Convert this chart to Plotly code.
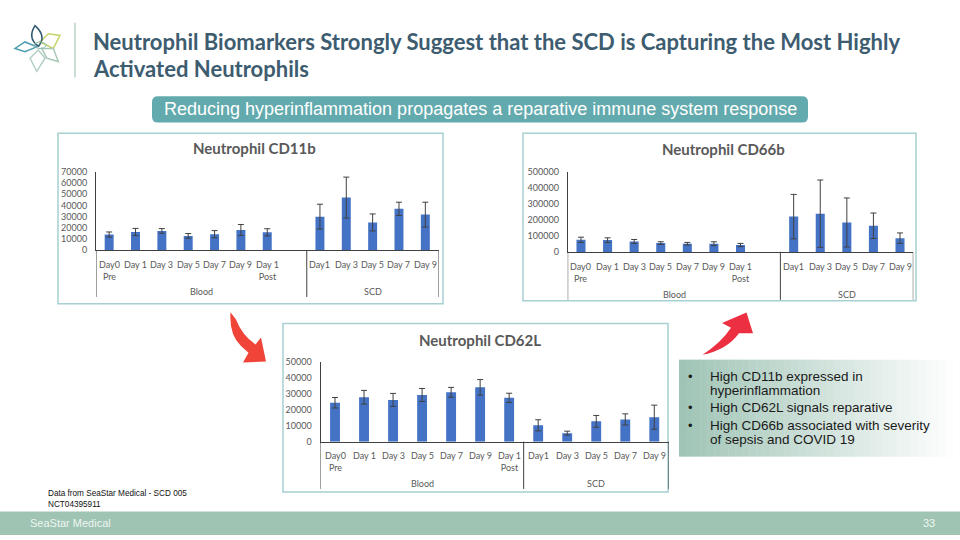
import plotly.graph_objects as go

W, H = 960, 540

# ---------------- data ----------------
blood_labels = ["Day0<br>Pre", "Day 1", "Day 3", "Day 5", "Day 7", "Day 9", "Day 1<br>Post"]
scd_labels = ["Day1", "Day 3", "Day 5", "Day 7", "Day 9"]
group_names = ["Blood", "SCD"]

cd11b_blood = [14000, 16300, 17200, 12800, 14300, 18100, 16000]
cd11b_blood_err = [2300, 3200, 2100, 2100, 3200, 4900, 3200]
cd11b_scd = [30000, 47000, 24800, 37000, 31800]
cd11b_scd_err = [11100, 18300, 7600, 5900, 11100]
cd11b_ticks = [0, 10000, 20000, 30000, 40000, 50000, 60000, 70000]

cd66b_blood = [75500, 73500, 65300, 55100, 51000, 51000, 42900]
cd66b_blood_err = [16300, 14300, 12200, 8200, 8200, 12200, 10200]
cd66b_scd = [220400, 238800, 183700, 163300, 85700]
cd66b_scd_err = [138800, 210200, 153100, 79600, 32700]
cd66b_ticks = [0, 100000, 200000, 300000, 400000, 500000]

cd62l_blood = [24500, 28000, 26300, 29400, 31100, 34200, 27600]
cd62l_blood_err = [3300, 4300, 4100, 4100, 3100, 4900, 2900]
cd62l_scd = [10300, 5350, 12800, 14000, 15400]
cd62l_scd_err = [3500, 1250, 3700, 3500, 7600]
cd62l_ticks = [0, 10000, 20000, 30000, 40000, 50000]

title_lines = ["Neutrophil Biomarkers Strongly Suggest that the SCD is Capturing the Most Highly",
               "Activated Neutrophils"]
banner_text = "Reducing hyperinflammation propagates a reparative immune system response"
bullets = [
    ["High CD11b expressed in", "hyperinflammation"],
    ["High CD62L signals reparative"],
    ["High CD66b associated with severity", "of sepsis and COVID 19"],
]

# ---------------- helpers ----------------
def PX(x):
    return x / W


def PY(y):
    return 1 - y / H


BAR = "#4472C4"
AXC = "#404040"
TXT = "#595959"
CFONT = "Lato, Carlito, sans-serif"
SFONT = "Liberation Sans, Arial, sans-serif"

charts = [
    dict(title="Neutrophil CD11b", blood=cd11b_blood, berr=cd11b_blood_err,
         scd=cd11b_scd, serr=cd11b_scd_err, ticks=cd11b_ticks, blank=True,
         box=(58, 130, 443, 304), xpix=(96, 438.5), ypix=(249.3, 169.3),
         lab_top=256.5, grp_y=291, div_bottom=297, title_y=145),
    dict(title="Neutrophil CD66b", blood=cd66b_blood, berr=cd66b_blood_err,
         scd=cd66b_scd, serr=cd66b_scd_err, ticks=cd66b_ticks, blank=True,
         box=(523, 130, 916, 301), xpix=(567.7, 913.3), ypix=(251, 169.3),
         lab_top=258.5, grp_y=294, div_bottom=300, title_y=146),
    dict(title="Neutrophil CD62L", blood=cd62l_blood, berr=cd62l_blood_err,
         scd=cd62l_scd, serr=cd62l_scd_err, ticks=cd62l_ticks, blank=False,
         box=(283, 324, 668, 496), xpix=(320.5, 668.8), ypix=(444.7, 363.7),
         lab_top=451.5, grp_y=487, div_bottom=493, title_y=341),
]

fig = go.Figure()
shapes = []
annotations = []
layout_axes = {}

for c in charts:
    l, t, r, b = c["box"]
    shapes.append(dict(type="rect", xref="paper", yref="paper",
                       x0=PX(l), x1=PX(r), y0=PY(b), y1=PY(t),
                       line=dict(color="#a6d0d2", width=1.5),
                       fillcolor="white", layer="below"))

for i, c in enumerate(charts):
    s = "" if i == 0 else str(i + 1)
    labels = blood_labels + ([""] if c["blank"] else []) + scd_labels
    vals = c["blood"] + ([None] if c["blank"] else []) + c["scd"]
    errs = c["berr"] + ([0] if c["blank"] else []) + c["serr"]
    n = len(labels)
    xs = list(range(n))
    nb = len(blood_labels) + (1 if c["blank"] else 0)

    fig.add_trace(go.Bar(
        x=xs, y=vals, width=0.34, xaxis="x" + s, yaxis="y" + s,
        marker=dict(color=BAR, line=dict(width=0)),
        error_y=dict(type="data", array=errs, visible=True,
                     color=AXC, thickness=1, width=3),
        hoverinfo="skip", showlegend=False,
    ))

    layout_axes["xaxis" + s] = dict(
        domain=[PX(c["xpix"][0]), PX(c["xpix"][1])], range=[-0.5, n - 0.5],
        anchor="y" + s, showticklabels=False, showgrid=False, zeroline=False,
        showline=True, linecolor=AXC, linewidth=1, ticks="", fixedrange=True)
    layout_axes["yaxis" + s] = dict(
        domain=[PY(c["ypix"][0]), PY(c["ypix"][1])],
        range=[0, c["ticks"][-1]], anchor="x" + s, tickvals=c["ticks"],
        tickformat="d", showgrid=False, zeroline=False, showline=True,
        linecolor=AXC, linewidth=1, ticks="", ticklabelstandoff=6,
        tickfont=dict(family=CFONT, size=9, color=TXT), fixedrange=True)

    for xi, lab in zip(xs, labels):
        if lab:
            annotations.append(dict(
                xref="x" + s, yref="paper", x=xi, y=PY(c["lab_top"]),
                yanchor="top", xanchor="center", text=lab, showarrow=False,
                align="center", font=dict(family=CFONT, size=9, color=TXT)))

    bounds = [-0.5, nb - 0.5, n - 0.5]
    for g, name in enumerate(group_names):
        annotations.append(dict(
            xref="x" + s, yref="paper", x=(bounds[g] + bounds[g + 1]) / 2,
            y=PY(c["grp_y"]), yanchor="middle", xanchor="center", text=name,
            showarrow=False, font=dict(family=CFONT, size=9, color=TXT)))
    for bx in bounds:
        shapes.append(dict(type="line", xref="x" + s, yref="paper",
                           x0=bx, x1=bx, y0=PY(c["ypix"][0]), y1=PY(c["div_bottom"]),
                           line=dict(color=AXC, width=1)))

    l, t, r, b = c["box"]
    annotations.append(dict(
        xref="paper", yref="paper", x=PX((l + r) / 2 + 4), y=PY(c["title_y"]),
        xanchor="center", yanchor="middle", text=c["title"], showarrow=False,
        font=dict(family=CFONT, size=15, color=TXT, weight="bold")))


def path(points, close=True):
    d = "M " + " L ".join(f"{PX(x):.5f},{PY(y):.5f}" for x, y in points)
    return d + (" Z" if close else "")


def qpath(seq):
    out = []
    for cmd, *pts in seq:
        coords = " ".join(f"{PX(pts[k]):.5f},{PY(pts[k + 1]):.5f}" for k in range(0, len(pts), 2))
        out.append(f"{cmd} {coords}")
    return " ".join(out) + " Z"


# ---------- slide decorations ----------
shapes.append(dict(type="line", xref="paper", yref="paper", x0=PX(75), x1=PX(75),
                   y0=PY(17), y1=PY(73), line=dict(color="#b8d2c2", width=1.5)))
petals = [
    ([(40, 36.7), (48.3, 28.3), (60, 30), (53.3, 43.3)], "#c5d66a"),
    ([(41.7, 43.3), (53.3, 43.3), (58.3, 56.7), (46.7, 53.3)], "#a9c7b6"),
    ([(38.3, 45), (45, 53.3), (36.7, 66.7), (30, 53.3)], "#b4cfc6"),
    ([(36.7, 41.7), (25, 46.7), (15, 43.3), (25, 36.7)], "#4f9db2"),
]
for pts, col in petals:
    shapes.append(dict(type="path", xref="paper", yref="paper", path=path(pts),
                       line=dict(color=col, width=1.5)))
shapes.append(dict(type="path", xref="paper", yref="paper",
                   path=qpath([("M", 38.5, 41), ("Q", 27, 33, 35, 20), ("Q", 47, 31, 38.5, 41)]),
                   line=dict(color="#2f5b70", width=1.5)))
shapes.append(dict(type="path", xref="paper", yref="paper",
                   path=qpath([("M", 33, 40), ("Q", 40, 33, 47, 40), ("Q", 40, 47, 33, 40)]),
                   line=dict(color="#8fbcb0", width=1)))

bl, bt, br, bb, rr = 152, 92, 808, 119, 6
shapes.append(dict(type="path", xref="paper", yref="paper", layer="below",
                   path=qpath([("M", bl + rr, bt), ("L", br - rr, bt), ("Q", br, bt, br, bt + rr),
                               ("L", br, bb - rr), ("Q", br, bb, br - rr, bb), ("L", bl + rr, bb),
                               ("Q", bl, bb, bl, bb - rr), ("L", bl, bt + rr), ("Q", bl, bt, bl + rr, bt)]),
                   fillcolor="#62aaad", line=dict(width=0)))
annotations.append(dict(xref="paper", yref="paper", x=PX(480), y=PY(105.5),
                        xanchor="center", yanchor="middle", showarrow=False,
                        text=banner_text,
                        font=dict(family=SFONT, size=18, color="white")))

for ty, txt in zip([36.5, 63.5], title_lines):
    annotations.append(dict(xref="paper", yref="paper", x=PX(91), y=PY(ty), xanchor="left",
                            yanchor="middle", showarrow=False, text=txt,
                            font=dict(family="Lato", size=22, color="#3d5c70", weight="bold")))

gx0, gx1, gt, gb = 679, 960, 361, 460
steps = 40
c0 = (160, 196, 182)
for k in range(steps):
    f = k / (steps - 1)
    col = tuple(int(round(c0[j] + (255 - c0[j]) * f)) for j in range(3))
    xa = gx0 + (gx1 - gx0) * k / steps
    xb = gx0 + (gx1 - gx0) * (k + 1) / steps + 0.5
    shapes.append(dict(type="rect", xref="paper", yref="paper", layer="below",
                       x0=PX(xa), x1=PX(xb), y0=PY(gb), y1=PY(gt),
                       fillcolor=f"rgb{col}", line=dict(width=0)))

line_y = [[378, 393], [410], [428, 443]]
for ys, lines in zip(line_y, bullets):
    annotations.append(dict(xref="paper", yref="paper", x=PX(690), y=PY(ys[0]), xanchor="center",
                            yanchor="middle", showarrow=False, text="•",
                            font=dict(family=SFONT, size=13, color="#1a1a1a")))
    for yy, txt in zip(ys, lines):
        annotations.append(dict(xref="paper", yref="paper", x=PX(708), y=PY(yy), xanchor="left",
                                yanchor="middle", showarrow=False, text=txt,
                                font=dict(family=SFONT, size=13.5, color="#1a1a1a")))

arrow1 = [("M", 230.5, 312.5), ("Q", 229, 336, 241, 347), ("L", 248.5, 354), ("L", 243, 364),
          ("L", 266, 363), ("L", 261, 338.5), ("L", 255.5, 345.5), ("Q", 242, 336, 236, 320)]
arrow2 = [("M", 702.5, 356), ("Q", 727, 351, 739, 334), ("L", 753, 334), ("L", 746.5, 313),
          ("L", 722, 323.5), ("L", 731, 328.5), ("Q", 721, 344, 702.5, 356)]
for a, col in [(arrow1, "#f04438"), (arrow2, "#ec3042")]:
    shapes.append(dict(type="path", xref="paper", yref="paper", path=qpath(a),
                       fillcolor=col, line=dict(width=0)))

annotations.append(dict(xref="paper", yref="paper", x=PX(46), y=PY(498), xanchor="left",
                        yanchor="middle", showarrow=False, text="Data from SeaStar Medical - SCD 005",
                        font=dict(family=SFONT, size=8.2, color="#111")))
annotations.append(dict(xref="paper", yref="paper", x=PX(46), y=PY(509), xanchor="left",
                        yanchor="middle", showarrow=False, text="NCT04395911",
                        font=dict(family=SFONT, size=8.2, color="#111")))

shapes.append(dict(type="rect", xref="paper", yref="paper", x0=0, x1=1, y0=0, y1=PY(516),
                   fillcolor="#9fc4b3", line=dict(width=0), layer="below"))
annotations.append(dict(xref="paper", yref="paper", x=PX(28), y=PY(528), xanchor="left",
                        yanchor="middle", showarrow=False, text="SeaStar Medical",
                        font=dict(family=SFONT, size=11, color="#eef5f1")))
annotations.append(dict(xref="paper", yref="paper", x=PX(937), y=PY(528), xanchor="right",
                        yanchor="middle", showarrow=False, text="33",
                        font=dict(family=SFONT, size=11, color="#eef5f1")))

fig.update_layout(
    width=W, height=H, margin=dict(l=0, r=0, t=0, b=0),
    paper_bgcolor="white", plot_bgcolor="rgba(0,0,0,0)",
    showlegend=False, shapes=shapes, annotations=annotations,
    **layout_axes,
)

fig.write_html("out.html")
